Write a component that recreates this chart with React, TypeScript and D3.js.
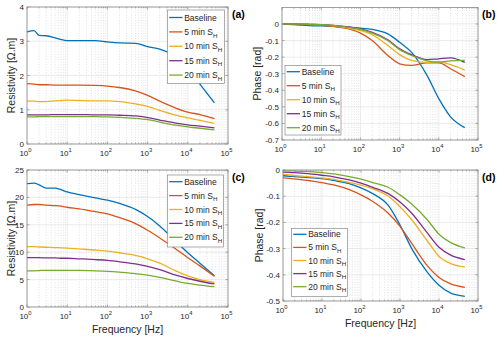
import React from 'react';
import * as d3 from 'd3';

// frequency points (Hz) shared by every curve
const FREQ = [1, 1.5, 2, 3, 5, 7, 10, 20, 50, 100, 200, 500, 1000, 2000, 5000, 10000, 20000, 46000];

const NAMES = ['Baseline', '5 min S', '10 min S', '15 min S', '20 min S'];
const COLORS = ['#0072BD', '#D95319', '#EDB120', '#7E2F8E', '#77AC30'];

// (a) resistivity
const A_BASE = [3.27, 3.31, 3.17, 3.16, 3.1, 3.05, 3.02, 3.02, 3.02, 2.98, 2.95, 2.94, 2.84, 2.77, 2.55, 2.2, 1.75, 1.2];
const A_5 = [1.76, 1.75, 1.73, 1.73, 1.72, 1.72, 1.72, 1.72, 1.71, 1.69, 1.65, 1.55, 1.42, 1.25, 1.05, 0.93, 0.86, 0.74];
const A_10 = [1.26, 1.25, 1.24, 1.24, 1.26, 1.27, 1.28, 1.27, 1.26, 1.26, 1.24, 1.17, 1.1, 0.98, 0.84, 0.76, 0.69, 0.6];
const A_15 = [0.85, 0.85, 0.85, 0.85, 0.86, 0.86, 0.86, 0.86, 0.85, 0.85, 0.84, 0.82, 0.77, 0.7, 0.61, 0.56, 0.52, 0.47];
const A_20 = [0.79, 0.79, 0.8, 0.8, 0.8, 0.8, 0.8, 0.8, 0.8, 0.79, 0.78, 0.75, 0.71, 0.64, 0.55, 0.5, 0.46, 0.41];

// (b) phase
const B_BASE = [0, -0.002, -0.004, -0.007, -0.01, -0.011, -0.012, -0.015, -0.02, -0.025, -0.033, -0.06, -0.11, -0.17, -0.31, -0.45, -0.56, -0.625];
const B_5 = [0, 0, -0.001, -0.002, -0.004, -0.006, -0.008, -0.015, -0.03, -0.055, -0.1, -0.19, -0.24, -0.25, -0.235, -0.235, -0.27, -0.318];
const B_10 = [0, 0, -0.001, -0.002, -0.003, -0.004, -0.006, -0.012, -0.025, -0.04, -0.065, -0.13, -0.185, -0.22, -0.232, -0.228, -0.245, -0.278];
const B_15 = [0, 0, -0.001, -0.001, -0.002, -0.003, -0.004, -0.008, -0.018, -0.03, -0.05, -0.095, -0.15, -0.185, -0.215, -0.21, -0.205, -0.232];
const B_20 = [0, 0, -0.001, -0.001, -0.002, -0.003, -0.004, -0.009, -0.02, -0.032, -0.055, -0.1, -0.155, -0.19, -0.222, -0.23, -0.223, -0.22];

// (c) resistivity
const C_BASE = [22.5, 22.6, 22.3, 21.7, 21.7, 21.4, 21.0, 20.5, 19.9, 19.5, 18.9, 17.8, 16.5, 14.8, 12.0, 9.9, 8.0, 5.7];
const C_5 = [18.6, 18.7, 18.7, 18.6, 18.5, 18.4, 18.2, 17.9, 17.4, 17.0, 16.3, 15.2, 14.0, 12.6, 10.6, 9.0, 7.5, 5.6];
const C_10 = [11.0, 11.0, 10.95, 10.9, 10.85, 10.8, 10.75, 10.6, 10.4, 10.2, 9.9, 9.4, 8.8, 8.0, 6.6, 5.7, 5.0, 4.5];
const C_15 = [9.0, 9.0, 9.0, 8.95, 8.95, 8.9, 8.9, 8.8, 8.65, 8.5, 8.25, 7.85, 7.4, 6.8, 5.8, 5.2, 4.7, 4.2];
const C_20 = [6.6, 6.6, 6.65, 6.7, 6.7, 6.7, 6.7, 6.7, 6.6, 6.5, 6.35, 6.1, 5.8, 5.4, 4.75, 4.3, 4.0, 3.7];

// (d) phase
const D_BASE = [-0.022, -0.024, -0.025, -0.027, -0.029, -0.031, -0.033, -0.04, -0.052, -0.068, -0.09, -0.135, -0.21, -0.3, -0.39, -0.44, -0.47, -0.482];
const D_5 = [-0.03, -0.032, -0.034, -0.037, -0.041, -0.044, -0.048, -0.057, -0.075, -0.095, -0.12, -0.165, -0.215, -0.28, -0.365, -0.41, -0.435, -0.448];
const D_10 = [-0.017, -0.019, -0.021, -0.023, -0.026, -0.028, -0.03, -0.036, -0.048, -0.058, -0.072, -0.1, -0.14, -0.19, -0.27, -0.33, -0.357, -0.37];
const D_15 = [-0.008, -0.009, -0.01, -0.012, -0.015, -0.017, -0.02, -0.026, -0.038, -0.05, -0.066, -0.09, -0.122, -0.165, -0.24, -0.295, -0.325, -0.342];
const D_20 = [-0.003, -0.003, -0.004, -0.005, -0.006, -0.008, -0.01, -0.015, -0.025, -0.035, -0.048, -0.066, -0.095, -0.13, -0.19, -0.245, -0.277, -0.297];

const X_DECADES = [1, 10, 100, 1000, 10000, 100000];
const RES_A_TICKS = [0, 1, 2, 3, 4];
const PHASE_B_TICKS = [-0.7, -0.6, -0.5, -0.4, -0.3, -0.2, -0.1, 0];
const RES_C_TICKS = [0, 5, 10, 15, 20, 25];
const PHASE_D_TICKS = [-0.5, -0.4, -0.3, -0.2, -0.1, 0];

const FONT = '"Liberation Sans", Arial, sans-serif';
const TXT = '#262626';
const AX = '#8a8a8a';

type PanelProps = {
  box: { l: number; r: number; t: number; b: number };
  yDomain: [number, number];
  yTicks: number[];
  series: number[][];
  tag: string;
  yLabel: string;
  yLabelOff: number;
  xLabel?: string;
  legend: { x: number; y: number; w: number; h: number; first: number; row: number };
};

function Panel({ box, yDomain, yTicks, series, tag, yLabel, yLabelOff, xLabel, legend }: PanelProps) {
  const x = d3.scaleLog().domain([1, 1e5]).range([box.l, box.r]);
  const y = d3.scaleLinear().domain(yDomain).range([box.b, box.t]);
  const line = d3.line<number>()
    .x((_, i) => x(FREQ[i]))
    .y(d => y(d))
    .curve(d3.curveMonotoneX);

  const minor: number[] = [];
  for (let dec = 1; dec < 1e5; dec *= 10) {
    for (let k = 2; k <= 9; k++) minor.push(dec * k);
  }

  return (
    <g fontFamily={FONT}>
      {/* grid */}
      {minor.map(f => (
        <line key={'m' + f} x1={x(f)} x2={x(f)} y1={box.t} y2={box.b}
          stroke="#cfcfcf" strokeWidth={0.6} strokeDasharray="1,1.6" />
      ))}
      {X_DECADES.map(f => (
        <line key={'g' + f} x1={x(f)} x2={x(f)} y1={box.t} y2={box.b} stroke="#e2e2e2" strokeWidth={0.7} />
      ))}
      {yTicks.map(v => (
        <line key={'h' + v} x1={box.l} x2={box.r} y1={y(v)} y2={y(v)} stroke="#e2e2e2" strokeWidth={0.7} />
      ))}

      {/* curves */}
      {series.map((s, i) => (
        <path key={i} d={line(s) || ''} fill="none" stroke={COLORS[i]} strokeWidth={1.3} />
      ))}

      {/* box and ticks */}
      <rect x={box.l} y={box.t} width={box.r - box.l} height={box.b - box.t} fill="none" stroke={AX} strokeWidth={0.8} />
      {X_DECADES.map(f => (
        <g key={'xt' + f}>
          <line x1={x(f)} x2={x(f)} y1={box.b} y2={box.b - 2.5} stroke={AX} strokeWidth={0.7} />
          <line x1={x(f)} x2={x(f)} y1={box.t} y2={box.t + 2.5} stroke={AX} strokeWidth={0.7} />
          <text x={x(f) - 1.5} y={box.b + 12} fontSize={8} fill={TXT} textAnchor="middle">
            10<tspan fontSize={5.8} dy={-4}>{Math.round(Math.log10(f))}</tspan>
          </text>
        </g>
      ))}
      {minor.map(f => (
        <g key={'mt' + f}>
          <line x1={x(f)} x2={x(f)} y1={box.b} y2={box.b - 1.4} stroke={AX} strokeWidth={0.6} />
          <line x1={x(f)} x2={x(f)} y1={box.t} y2={box.t + 1.4} stroke={AX} strokeWidth={0.6} />
        </g>
      ))}
      {yTicks.map(v => (
        <g key={'yt' + v}>
          <line x1={box.l} x2={box.l + 2.5} y1={y(v)} y2={y(v)} stroke={AX} strokeWidth={0.7} />
          <line x1={box.r} x2={box.r - 2.5} y1={y(v)} y2={y(v)} stroke={AX} strokeWidth={0.7} />
          <text x={box.l - 3} y={y(v) + 3} fontSize={8} fill={TXT} textAnchor="end">
            {String(+v.toFixed(1))}
          </text>
        </g>
      ))}

      {/* labels */}
      <text transform={`translate(${box.l - yLabelOff},${(box.t + box.b) / 2}) rotate(-90)`}
        fontSize={10.5} fill={TXT} textAnchor="middle">{yLabel}</text>
      {xLabel && (
        <text x={(box.l + box.r) / 2} y={box.b + 26} fontSize={10.5} fill={TXT} textAnchor="middle">{xLabel}</text>
      )}
      <text x={box.r + 4} y={box.t + 11} fontSize={10.5} fontWeight="bold" fill="#000">{tag}</text>

      {/* legend */}
      <rect x={legend.x} y={legend.y} width={legend.w} height={legend.h} fill="#fff" stroke={AX} strokeWidth={0.7} />
      {NAMES.map((n, i) => {
        const ry = legend.y + legend.first + i * legend.row;
        return (
          <g key={'lg' + i}>
            <line x1={legend.x + 1.7} x2={legend.x + 15} y1={ry} y2={ry} stroke={COLORS[i]} strokeWidth={1.3} />
            <text x={legend.x + 16.7} y={ry + 3} fontSize={8.5} fill={TXT}>
              {n}
              {i > 0 && <tspan fontSize={6.2} dy={2.6}>H</tspan>}
            </text>
          </g>
        );
      })}
    </g>
  );
}

export default function App() {
  return (
    <div style={{ position: 'fixed', left: 0, top: 0 }}>
      <svg width={500} height={340} style={{ display: 'block', background: '#fff' }}>
        <Panel
          box={{ l: 27, r: 228, t: 7, b: 144 }}
          yDomain={[0, 4]} yTicks={RES_A_TICKS}
          series={[A_BASE, A_5, A_10, A_15, A_20]}
          tag="(a)" yLabel="Resistivity [Ω.m]" yLabelOff={12}
          legend={{ x: 167.5, y: 10, w: 57, h: 73.5, first: 7.5, row: 14.4 }}
        />
        <Panel
          box={{ l: 282, r: 478, t: 7.4, b: 140 }}
          yDomain={[-0.7, 0.1]} yTicks={PHASE_B_TICKS}
          series={[B_BASE, B_5, B_10, B_15, B_20]}
          tag="(b)" yLabel="Phase [rad]" yLabelOff={21}
          legend={{ x: 285, y: 65.5, w: 56, h: 69.5, first: 6.2, row: 14 }}
        />
        <Panel
          box={{ l: 27, r: 228, t: 170, b: 307 }}
          yDomain={[0, 25]} yTicks={RES_C_TICKS}
          series={[C_BASE, C_5, C_10, C_15, C_20]}
          tag="(c)" yLabel="Resistivity [Ω.m]" yLabelOff={12} xLabel="Frequency [Hz]"
          legend={{ x: 167.5, y: 175, w: 56, h: 72, first: 6.7, row: 13.9 }}
        />
        <Panel
          box={{ l: 283, r: 478, t: 170, b: 301 }}
          yDomain={[-0.5, 0]} yTicks={PHASE_D_TICKS}
          series={[D_BASE, D_5, D_10, D_15, D_20]}
          tag="(d)" yLabel="Phase [rad]" yLabelOff={20} xLabel="Frequency [Hz]"
          legend={{ x: 291.5, y: 228.5, w: 56, h: 68, first: 5.8, row: 13.1 }}
        />
      </svg>
    </div>
  );
}
